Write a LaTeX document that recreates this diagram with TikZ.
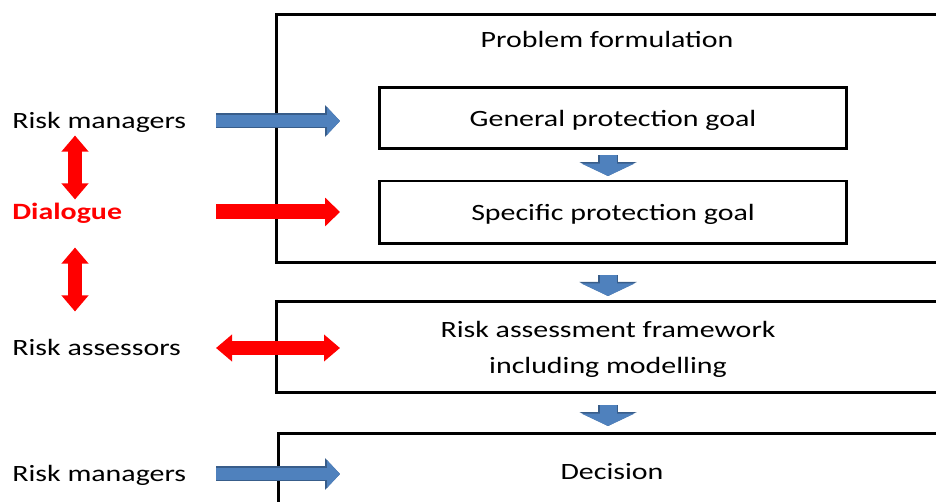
\documentclass[tikz,border=0pt]{standalone}
\usepackage{fontspec}
\setmainfont{Carlito}[FakeStretch=1.28]
\usetikzlibrary{arrows.meta}

\definecolor{bluefill}{HTML}{4F81BD}
\definecolor{blueedge}{HTML}{385D8A}

\tikzset{
  box/.style={draw, line width=0.06cm, outer sep=0pt, inner sep=0pt},
  txt/.style={font=\fontsize{13.3}{21}\selectfont, text height=12pt, text depth=3pt, inner sep=0pt},
  bluearr/.style={draw=bluefill, line width=0.24cm, -{Triangle[width=0.54cm,length=0.26cm]},
    preaction={draw=blueedge, line width=0.3cm, -{Triangle[width=0.62cm,length=0.3cm]}}},
  downarr/.style={draw=bluefill, line width=0.34cm, -{Triangle[width=1.06cm,length=0.25cm]},
    preaction={draw=blueedge, line width=0.4cm, -{Triangle[width=1.14cm,length=0.28cm]}}},
  redarr/.style={draw=red, line width=0.3cm, -{Triangle[width=0.56cm,length=0.3cm]}},
  redboth/.style={draw=red, line width=0.27cm, {Triangle[width=0.52cm,length=0.32cm]}-{Triangle[width=0.52cm,length=0.32cm]}}
}

\begin{document}
\begin{tikzpicture}[x=0.02cm, y=-0.02cm]
\useasboundingbox (0,0) rectangle (936,502);
\clip (0,0) rectangle (936,502);

\node[box, anchor=north west, minimum width=14cm, minimum height=4.96cm] (pf) at (276,15) {};
\node[txt] (pft) at (607,40) {Problem formulation};
\node[box, txt, minimum width=9.36cm, minimum height=1.22cm] (gen) at (613,118.5) {General protection goal};
\node[box, txt, minimum width=9.36cm, minimum height=1.26cm] (spec) at (613,212.5) {Specific protection goal};
\node[box, anchor=north west, minimum width=14cm, minimum height=1.82cm] (raf) at (276,302) {};
\node[txt, align=center, anchor=base] (raft) at (608,374) {Risk assessment framework\\including modelling};
\node[box, anchor=north west, minimum width=14cm, minimum height=2cm] (dec) at (278,434) {};
\node[txt] (dect) at (612,472) {Decision};

\node[txt, anchor=west] (mgr1) at (12,121) {Risk managers};
\node[txt, anchor=west, text=red, font=\fontsize{13.3}{21}\selectfont\bfseries] (dlg) at (12,212) {Dialogue};
\node[txt, anchor=west] (assr) at (12,348) {Risk assessors};
\node[txt, anchor=west] (mgr2) at (12,474) {Risk managers};

\coordinate (inL) at (216,0);
\coordinate (inR) at (340,0);
\coordinate (vax) at (75,0);
\coordinate (dn) at (608,0);

\draw[bluearr] (inL |- mgr1) -- (inR |- mgr1);
\draw[redarr] (inL |- dlg) -- (inR |- dlg);
\draw[redboth] (inL |- assr) -- (inR |- assr);
\draw[bluearr] (inL |- mgr2) -- (inR |- mgr2);

\draw[redboth, shorten <=0.02cm, shorten >=-0.02cm] (mgr1.south -| vax) -- (dlg.north -| vax);
\draw[redboth, shorten <=0.44cm, shorten >=0.46cm] (dlg.south -| vax) -- (assr.north -| vax);

\draw[downarr, shorten <=0.12cm, shorten >=0.1cm] (gen.south -| dn) -- (spec.north -| dn);
\draw[downarr, shorten <=0.24cm, shorten >=0.12cm] (pf.south -| dn) -- (raf.north -| dn);
\draw[downarr, shorten <=0.24cm, shorten >=0.16cm] (raf.south -| dn) -- (dec.north -| dn);
\end{tikzpicture}
\end{document}
